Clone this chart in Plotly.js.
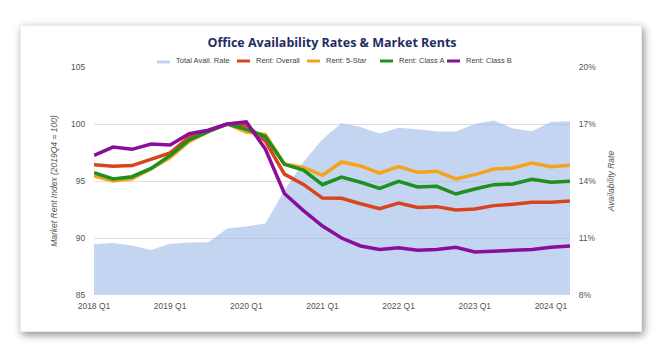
<!DOCTYPE html>
<html>
<head>
<meta charset="utf-8">
<script src="https://cdn.plot.ly/plotly-3.0.1.min.js"></script>
<style>
  html, body { margin: 0; padding: 0; background: #ffffff; width: 664px; height: 357px; overflow: hidden; }
  #card { position: absolute; left: 20px; top: 25px; width: 620px; height: 305px; background: #ffffff;
          border: 1px solid #ececec; box-shadow: 2px 3px 8px rgba(0,0,0,0.45); }
  #chart { position: absolute; left: 0; top: 0; width: 664px; height: 357px; }
</style>
</head>
<body>
<div id="card"></div>
<div id="chart"></div>
<script>
const quarters = ["2018 Q1","2018 Q2","2018 Q3","2018 Q4","2019 Q1","2019 Q2","2019 Q3","2019 Q4",
                  "2020 Q1","2020 Q2","2020 Q3","2020 Q4","2021 Q1","2021 Q2","2021 Q3","2021 Q4",
                  "2022 Q1","2022 Q2","2022 Q3","2022 Q4","2023 Q1","2023 Q2","2023 Q3","2023 Q4",
                  "2024 Q1","2024 Q2"];
const tickLabels = ["2018 Q1","2019 Q1","2020 Q1","2021 Q1","2022 Q1","2023 Q1","2024 Q1"];
const seriesNames = ["Total Avail. Rate","Rent: Overall","Rent: 5-Star","Rent: Class A","Rent: Class B"];
const seriesColors = ["rgba(160,188,232,0.62)","#d9441c","#f5a31a","#1f8f1f","#8a0d9c"];

const availRate   = [10.67,10.74,10.6,10.37,10.7,10.76,10.77,11.5,11.6,11.76,13.5,15.0,16.2,17.04,16.84,16.5,16.8,16.72,16.6,16.61,17.0,17.18,16.76,16.62,17.1,17.15];
const rentOverall = [96.43,96.29,96.35,96.87,97.46,98.86,99.39,100,99.9,98.5,95.6,94.7,93.5,93.48,93.0,92.58,93.07,92.67,92.75,92.46,92.55,92.84,92.96,93.13,93.13,93.25];
const rent5Star   = [95.44,95.0,95.2,96.08,97.05,98.48,99.33,100,99.3,99.07,96.5,96.2,95.5,96.67,96.32,95.68,96.26,95.76,95.85,95.18,95.56,96.05,96.14,96.58,96.26,96.38];
const rentClassA  = [95.73,95.18,95.38,96.11,97.25,98.6,99.33,100,99.54,98.9,96.46,95.96,94.68,95.35,94.89,94.36,94.97,94.47,94.53,93.86,94.3,94.68,94.74,95.15,94.89,94.97];
const rentClassB  = [97.25,97.98,97.78,98.25,98.16,99.15,99.45,100,100.18,97.8,93.9,92.4,91.05,90.0,89.3,89.0,89.15,88.92,89.0,89.18,88.77,88.86,88.95,89.0,89.18,89.3];

const lineW = 3.5;
const rentSeries = [rentOverall, rent5Star, rentClassA, rentClassB];
const traces = [
  { x: quarters, y: availRate, name: seriesNames[0], type: "scatter", mode: "lines",
    fill: "tozeroy", fillcolor: seriesColors[0], line: { width: 0, color: seriesColors[0] },
    yaxis: "y", hoverinfo: "skip" }
];
rentSeries.forEach((vals, i) => {
  traces.push({ x: quarters, y: vals, name: seriesNames[i + 1], type: "scatter", mode: "lines",
                line: { color: seriesColors[i + 1], width: lineW }, yaxis: "y2" });
});

// plot area geometry (px) used only to place the hand-drawn legend
const W = 664, H = 357, M = { l: 94, r: 94, t: 67, b: 62 };
const pw = W - M.l - M.r, ph = H - M.t - M.b;
const px2x = p => (p - M.l) / pw;
const py2y = p => (H - M.b - p) / ph;

// legend layout (pixel positions of swatches)
const legSwatch = [[157, 170], [237, 250], [307, 320], [380, 393], [447, 460]];
const legY = 61;
const shapes = [];
const annotations = [];
legSwatch.forEach((s, i) => {
  if (i === 0) {
    shapes.push({ type: "rect", xref: "paper", yref: "paper", x0: px2x(s[0]), x1: px2x(s[1]),
                  y0: py2y(legY + 2.5), y1: py2y(legY - 0.5), fillcolor: "#c2d2ee", line: { width: 0 } });
  } else {
    shapes.push({ type: "line", xref: "paper", yref: "paper", x0: px2x(s[0]), x1: px2x(s[1]),
                  y0: py2y(legY), y1: py2y(legY), line: { color: seriesColors[i], width: 3 } });
  }
  annotations.push({ text: seriesNames[i], xref: "paper", yref: "paper", x: px2x(s[1] + 3.5), y: py2y(legY - 0.5),
                     xanchor: "left", yanchor: "middle", showarrow: false,
                     font: { family: "Liberation Sans, Arial, sans-serif", size: 7.5, color: "#444444" } });
});

const tickFont = { family: "Liberation Sans, Arial, sans-serif", size: 8.5, color: "#555555" };
const titleFont = { family: "Liberation Sans, Arial, sans-serif", size: 8.5, color: "#555555" };
const layout = {
  width: W, height: H,
  paper_bgcolor: "rgba(0,0,0,0)", plot_bgcolor: "rgba(0,0,0,0)",
  margin: M,
  title: { text: "Office Availability Rates & Market Rents", x: 0.5, xanchor: "center", y: 0.882, yanchor: "middle",
           font: { family: "Open Sans, sans-serif", size: 12.5, color: "#1f2d62", weight: 700 } },
  showlegend: false,
  shapes: shapes,
  annotations: annotations,
  xaxis: { type: "category", range: [0, 25], tickmode: "array", tickvals: tickLabels, ticktext: tickLabels,
           showgrid: false, zeroline: false, showline: false, ticks: "outside", ticklen: 3,
           tickcolor: "rgba(0,0,0,0)", tickfont: tickFont, fixedrange: true },
  yaxis: { side: "right", range: [8, 20], tickmode: "linear", tick0: 8, dtick: 3, ticksuffix: "%",
           showgrid: true, gridcolor: "#dedede", gridwidth: 1, zeroline: false, showline: false,
           ticks: "outside", ticklen: 6, tickcolor: "rgba(0,0,0,0)", tickfont: tickFont,
           title: { text: "<i>Availability Rate</i>", standoff: 12, font: titleFont } },
  yaxis2: { side: "left", overlaying: "y", range: [85, 105], tickmode: "linear", tick0: 85, dtick: 5,
            showgrid: false, zeroline: false, showline: false,
            ticks: "outside", ticklen: 6, tickcolor: "rgba(0,0,0,0)", tickfont: tickFont,
            title: { text: "<i>Market Rent Index (2019Q4 = 100)</i>", standoff: 12, font: titleFont } }
};

Plotly.newPlot("chart", traces, layout, { staticPlot: true, displayModeBar: false });
</script>
</body>
</html>
